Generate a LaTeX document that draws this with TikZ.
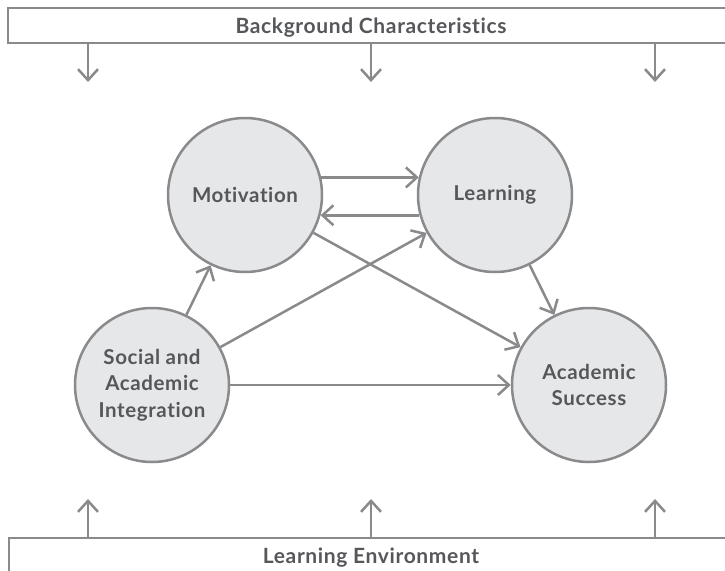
\documentclass[tikz,border=0pt]{standalone}
\usepackage{fontspec}
\setmainfont{Lato}[Ligatures={NoCommon},LetterSpace=3]
\usetikzlibrary{arrows.meta}
\definecolor{linegray}{HTML}{8A8A8C}
\definecolor{fillgray}{HTML}{E6E7E8}
\definecolor{textgray}{HTML}{56575A}
\begin{document}
\begin{tikzpicture}[x=1pt,y=-1pt,
  concept/.style={circle, draw=linegray, fill=fillgray, line width=2.5pt,
    minimum size=154pt, inner sep=0pt, align=center,
    font=\fontsize{20.5}{26.5}\selectfont\bfseries, text=textgray},
  link/.style={draw=linegray, line width=2.5pt,
    -{Straight Barb[length=11pt,width=20pt,line width=2.5pt]}},
  boxline/.style={draw=linegray, line width=2.5pt},
  boxlabel/.style={font=\fontsize{21}{24}\selectfont\bfseries, text=textgray}]
\useasboundingbox (0,0) rectangle (725,570);

% frame bars (open to the right)
\draw[boxline] (725,8) -- (8,8) -- (8,43) -- (725,43);
\draw[boxline] (725,538) -- (9,538) -- (9,572);
\node[boxlabel, anchor=base] (bg) at (371,33.5) {Background Characteristics};
\node[boxlabel, anchor=base] (env) at (371,563.5) {Learning Environment};

% concepts
\node[concept] (M) at (245,195) {Motivation};
\node[concept] (L) at (495,195) {Learning};
\node[concept] (S) at (152,385) {Social and\\Academic\\Integration};
\node[concept] (A) at (589,385) {Academic\\Success};

% influences from the background and environment bars
\foreach \i/\x in {1/88,2/371,3/655}{
  \coordinate (top\i) at (\x,43);
  \coordinate (topend\i) at (\x,82);
  \draw[link] (top\i) -- (topend\i);
  \coordinate (bot\i) at (\x,538);
  \coordinate (botend\i) at (\x,499);
  \draw[link] (bot\i) -- (botend\i);
}

% relations between concepts
\draw[link] (M.13) -- (L.167);
\draw[link] (L.-165) -- (M.-15);
\draw[link] (M) -- (A);
\draw[link] (S) -- (L);
\draw[link] (S) -- (M);
\draw[link] (S) -- (A);
\draw[link] (L) -- (A);
\end{tikzpicture}
\end{document}
